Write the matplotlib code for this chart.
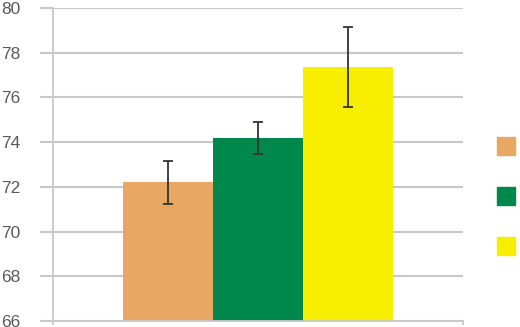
import matplotlib

matplotlib.use("Agg")
import matplotlib.pyplot as plt
from matplotlib.lines import Line2D

# data
groups = ["A", "B", "C"]
means = [72.2, 74.2, 77.35]
errors = [0.97, 0.72, 1.8]
colors = ["#E8A762", "#00874C", "#F8EE00"]
legend_labels = [" ", " ", " "]
yticks = [66, 68, 70, 72, 74, 76, 78, 80]

GRID = "#C8C8C8"
TEXT = "#5A5A5A"

plt.rcParams["font.family"] = ["Liberation Sans", "DejaVu Sans"]

fig = plt.figure(figsize=(5.2, 3.27), dpi=100)
ax = fig.add_axes([53 / 520, 6 / 327, 410 / 520, 313 / 327])

xs = list(range(len(groups)))
ax.bar(xs, [m - yticks[0] for m in means], bottom=yticks[0], width=1.0,
       color=colors, zorder=2)
ax.errorbar(xs, means, yerr=errors, fmt="none", ecolor="#333333",
            elinewidth=1.3, capsize=3.5, capthick=1.3, zorder=3)

ax.set_xlim(-1.27, 3.27)
ax.set_ylim(yticks[0], yticks[-1])
ax.set_yticks(yticks)
ax.set_xticks([-1.27, 3.27])
ax.set_xticklabels([])
ax.yaxis.grid(True, color=GRID, linewidth=1.5, zorder=0)
ax.set_axisbelow(True)

for side in ("top", "right"):
    ax.spines[side].set_visible(False)
for side in ("left", "bottom"):
    ax.spines[side].set_color(GRID)
    ax.spines[side].set_linewidth(1.3)
ax.tick_params(axis="y", length=9.4, width=1.5, color=GRID, pad=14,
               labelsize=12.5, labelcolor=TEXT)
ax.tick_params(axis="x", length=3, width=1.3, color=GRID)

handles = [Line2D([], [], linestyle="none", marker="s", markersize=12.5,
                  markerfacecolor=c, markeredgecolor=c) for c in colors]
fig.legend(handles, legend_labels, loc="upper left",
           bbox_to_anchor=(496 / 520, 1 - 140 / 327), frameon=False,
           handlelength=1.2, handletextpad=0.4, borderpad=0, borderaxespad=0,
           labelspacing=2.1, fontsize=12)

fig.savefig("out.png", dpi=100)
